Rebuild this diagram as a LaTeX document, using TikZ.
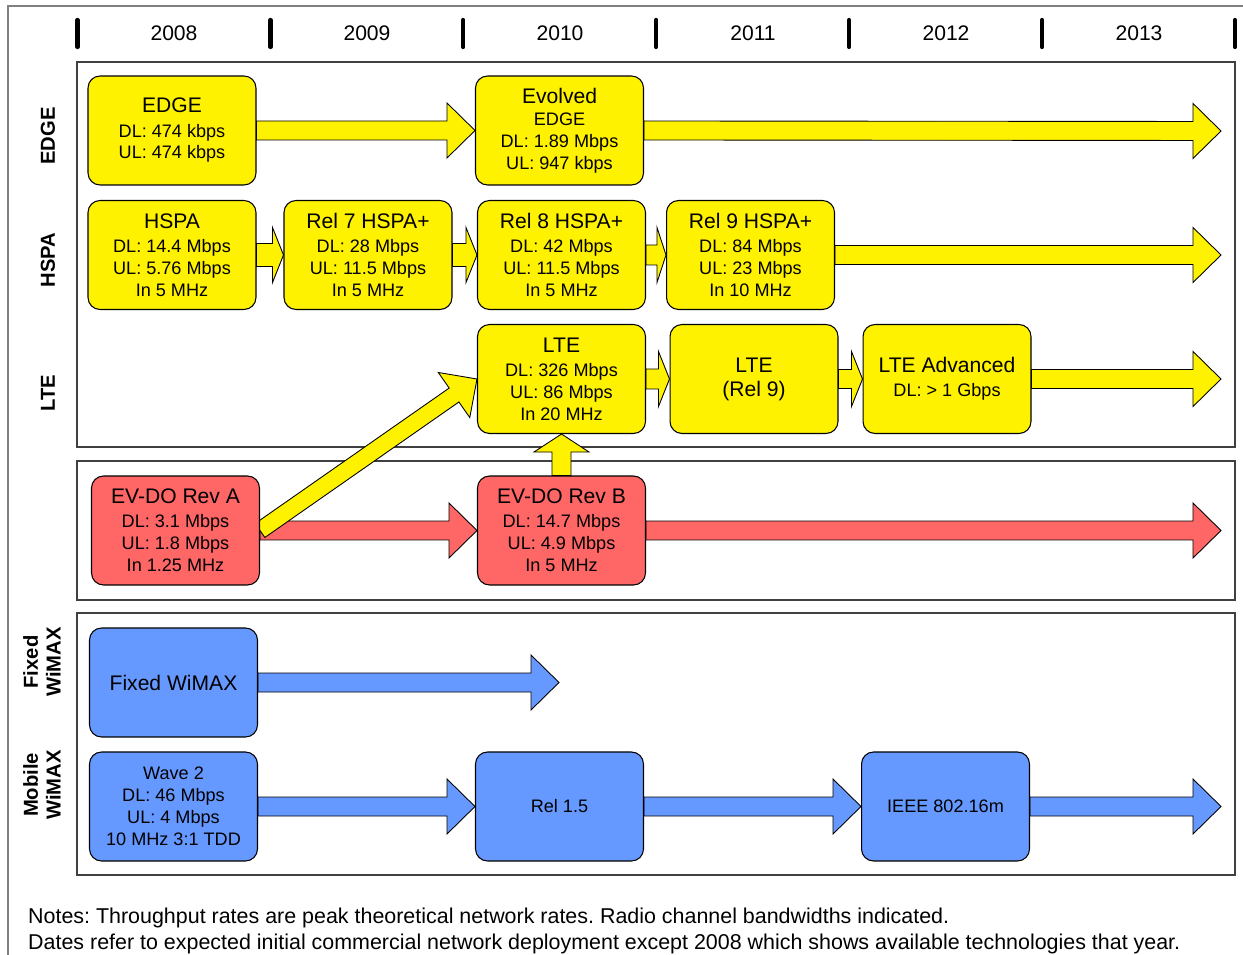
\documentclass[tikz,border=0pt]{standalone}
\usepackage{fontspec}
\setmainfont{Liberation Sans}
\usetikzlibrary{calc}

\pgfdeclarelayer{back}
\pgfdeclarelayer{arrows}
\pgfsetlayers{back,arrows,main}

\definecolor{evred}{HTML}{FF6666}
\definecolor{wmblue}{HTML}{6699FF}
\definecolor{panelgray}{HTML}{404040}
\definecolor{framegray}{HTML}{808080}

\newcommand{\boxtitle}[1]{{\fontsize{12}{14}\selectfont #1}}

% fat arrow: fill, from, to, half shaft, head length
\newcommand{\blockarrow}[5]{%
  \coordinate (ba-a) at (#2);
  \coordinate (ba-b) at (#3);
  \coordinate (ba-h) at ($(ba-b)!#5!(ba-a)$);
  \filldraw[fill=#1, draw=black, line width=0.5pt, line join=miter]
    ($(ba-a)!#4!90:(ba-b)$) -- ($(ba-h)!#4!90:(ba-b)$) -- ($(ba-h)!0.55cm!90:(ba-b)$)
    -- (ba-b) -- ($(ba-h)!0.55cm!-90:(ba-b)$) -- ($(ba-h)!#4!-90:(ba-b)$)
    -- ($(ba-a)!#4!-90:(ba-b)$) -- cycle;
}

\tikzset{
  tech/.style={draw=black, line width=0.6pt, rounded corners=0.24cm,
    minimum width=3.36cm, minimum height=2.18cm, inner sep=0pt, align=center,
    font=\fontsize{10.3}{12.5}\selectfont},
  gsm/.style={tech, fill=yellow},
  cdma/.style={tech, fill=evred},
  wimax/.style={tech, fill=wmblue},
  panel/.style={draw=panelgray, line width=0.6pt},
  rowlabel/.style={rotate=90, align=center, font=\fontsize{11.5}{13}\selectfont\bfseries},
  yeartick/.style={line width=2.4pt, line cap=round},
  yearlabel/.style={font=\fontsize{12}{14}\selectfont}
}

\begin{document}
\begin{tikzpicture}[x=0.02cm, y=-0.02cm]

  \useasboundingbox (0,0) rectangle (1243,955);

  % frame and panels
  \begin{pgfonlayer}{back}
    \draw[framegray, line width=1pt] (8,955) -- (8,6) -- (1243,6);
    \draw[panel] (77,62) rectangle (1235,447);
    \draw[panel] (77,461) rectangle (1235,600);
    \draw[panel] (77,613) rectangle (1235,875);
  \end{pgfonlayer}

  % years
  \foreach \i in {0,...,6}
    \draw[yeartick] (77.5+192.9*\i,20) -- (77.5+192.9*\i,47);
  \foreach \yr [count=\i from 0] in {2008,2009,2010,2011,2012,2013}
    \node[yearlabel] (y\yr) at (174+193*\i,33) {\yr};

  % rows
  \node[rowlabel] (lbedge) at (48,136) {EDGE};
  \node[rowlabel] (lbhspa) at (48,260) {HSPA};
  \node[rowlabel] (lblte) at (48,393) {LTE};
  \node[rowlabel] (lbfixed) at (42,662) {Fixed\\WiMAX};
  \node[rowlabel] (lbmobile) at (42,785) {Mobile\\WiMAX};

  % 3GPP
  \node[gsm] (edge) at (172,130.5) {\boxtitle{EDGE}\\[1.2pt]DL: 474 kbps\\UL: 474 kbps};
  \node[gsm] (evedge) at (559.5,130.5) {\boxtitle{Evolved}\\EDGE\\DL: 1.89 Mbps\\UL: 947 kbps};
  \node[gsm] (hspa) at (172,255) {\boxtitle{HSPA}\\[1.2pt]DL: 14.4 Mbps\\UL: 5.76 Mbps\\In 5 MHz};
  \node[gsm] (rel7) at (368,255) {\boxtitle{Rel 7 HSPA+}\\[1.2pt]DL: 28 Mbps\\UL: 11.5 Mbps\\In 5 MHz};
  \node[gsm] (rel8) at (561.5,255) {\boxtitle{Rel 8 HSPA+}\\[1.2pt]DL: 42 Mbps\\UL: 11.5 Mbps\\In 5 MHz};
  \node[gsm] (rel9) at (750.5,255) {\boxtitle{Rel 9 HSPA+}\\[1.2pt]DL: 84 Mbps\\UL: 23 Mbps\\In 10 MHz};
  \node[gsm] (lte) at (561.5,379) {\boxtitle{LTE}\\[1.2pt]DL: 326 Mbps\\UL: 86 Mbps\\In 20 MHz};
  \node[gsm] (lte9) at (754,379) {\boxtitle{LTE}\\[1.2pt]\boxtitle{(Rel 9)}};
  \node[gsm] (lteadv) at (947,379) {\boxtitle{LTE Advanced}\\[1.2pt]DL: > 1 Gbps};

  % 3GPP2
  \node[cdma] (reva) at (175.5,530.5) {\boxtitle{EV-DO Rev A}\\[1.2pt]DL: 3.1 Mbps\\UL: 1.8 Mbps\\In 1.25 MHz};
  \node[cdma] (revb) at (561.5,530.5) {\boxtitle{EV-DO Rev B}\\[1.2pt]DL: 14.7 Mbps\\UL: 4.9 Mbps\\In 5 MHz};

  % WiMAX
  \node[wimax] (fixed) at (173.5,682.5) {\boxtitle{Fixed WiMAX}};
  \node[wimax] (wave2) at (173.5,806.5) {Wave 2\\DL: 46 Mbps\\UL: 4 Mbps\\10 MHz 3:1 TDD};
  \node[wimax] (rel15) at (559.5,806.5) {Rel 1.5};
  \node[wimax] (ieee) at (945.5,806.5) {IEEE 802.16m};

  \coordinate (edgeend) at (1221,131);
  \coordinate (hspaend) at (1221,255);
  \coordinate (lteend) at (1221,379);
  \coordinate (evdoend) at (1221,530.5);
  \coordinate (fixedend) at (559,682.5);
  \coordinate (mobileend) at (1221,806.5);

  \begin{pgfonlayer}{arrows}
    \blockarrow{yellow}{edge.east}{evedge.west}{0.19cm}{0.56cm}
    \blockarrow{yellow}{evedge.east}{edgeend}{0.19cm}{0.56cm}
    \blockarrow{yellow}{hspa.east}{rel7.west}{0.23cm}{0.22cm}
    \blockarrow{yellow}{rel7.east}{rel8.west}{0.23cm}{0.22cm}
    \blockarrow{yellow}{rel8.east}{rel9.west}{0.2cm}{0.18cm}
    \blockarrow{yellow}{rel9.east}{hspaend}{0.19cm}{0.56cm}
    \blockarrow{yellow}{lte.east}{lte9.west}{0.2cm}{0.22cm}
    \blockarrow{yellow}{lte9.east}{lteadv.west}{0.19cm}{0.22cm}
    \blockarrow{yellow}{lteadv.east}{lteend}{0.19cm}{0.56cm}
    \blockarrow{evred}{reva.east}{revb.west}{0.19cm}{0.56cm}
    \blockarrow{evred}{revb.east}{evdoend}{0.19cm}{0.56cm}
    \blockarrow{yellow}{reva.east}{lte.west}{0.17cm}{0.56cm}
    \blockarrow{yellow}{revb.north}{lte.south}{0.19cm}{0.36cm}
    \blockarrow{wmblue}{fixed.east}{fixedend}{0.19cm}{0.56cm}
    \blockarrow{wmblue}{wave2.east}{rel15.west}{0.19cm}{0.56cm}
    \blockarrow{wmblue}{rel15.east}{ieee.west}{0.19cm}{0.56cm}
    \blockarrow{wmblue}{ieee.east}{mobileend}{0.19cm}{0.56cm}
  \end{pgfonlayer}

  \node[anchor=west, align=left, font=\fontsize{12.2}{14.8}\selectfont\frenchspacing] (notes) at (22,931)
    {Notes: Throughput rates are peak theoretical network rates. Radio channel bandwidths indicated.\\
     Dates refer to expected initial commercial network deployment except 2008 which shows available technologies that year.};

\end{tikzpicture}
\end{document}
